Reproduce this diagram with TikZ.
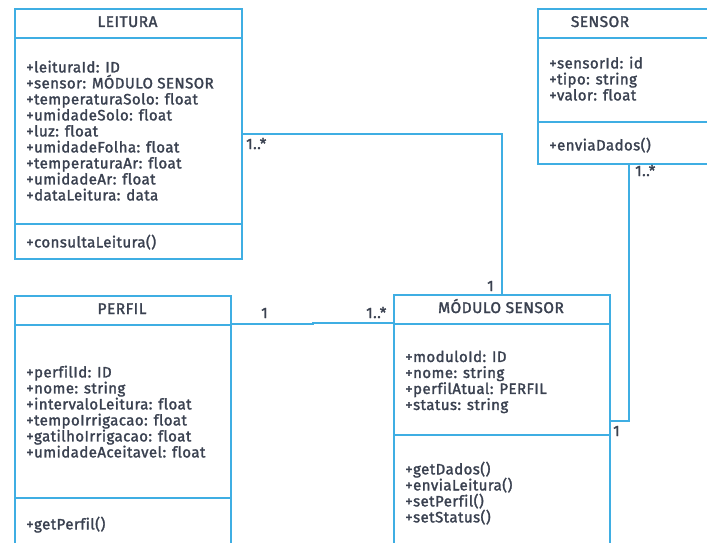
\documentclass[tikz,border=0pt]{standalone}
\usepackage{fontspec}
\setmainfont{Fira Sans}[Ligatures=NoCommon]
\newfontfamily\umlfont{Fira Sans}[Ligatures=NoCommon, FakeBold=1.8, LetterSpace=3]
\definecolor{umlblue}{HTML}{3FAEE3}
\definecolor{umltext}{HTML}{3A4150}
\begin{document}
\begin{tikzpicture}[x=1pt,y=-1pt,
  classbox/.style={draw=umlblue, line width=1.8pt, rectangle, inner sep=0pt, anchor=north west},
  divider/.style={draw=umlblue, line width=1.8pt},
  umltype/.style={text=umltext, font=\umlfont\fontsize{15}{16}\selectfont, inner sep=0pt},
  title/.style={umltype, font=\umlfont\fontsize{15.5}{16}\selectfont, anchor=base},
  members/.style={umltype, align=left, anchor=north west},
  mult/.style={umltype, anchor=base west},
  assoc/.style={draw=umlblue, line width=1.8pt}
]
\clip (0,0) rectangle (707,543);
\useasboundingbox (0,0) rectangle (707,543);

% LEITURA
\node[classbox, minimum width=227pt, minimum height=250pt] (leit) at (14,8) {};
\draw[divider] ([yshift=-30pt]leit.north west) -- ([yshift=-30pt]leit.north east);
\draw[divider] ([yshift=-216pt]leit.north west) -- ([yshift=-216pt]leit.north east);
\node[title] (leitT) at (127.5,27) {LEITURA};
\node[members] (leitA) at (26,60.5) {+leituraId: ID\\+sensor: MÓDULO SENSOR\\+temperaturaSolo: float\\+umidadeSolo: float\\+luz: float\\+umidadeFolha: float\\+temperaturaAr: float\\+umidadeAr: float\\+dataLeitura: data};
\node[members] (leitM) at (26,234.5) {+consultaLeitura()};

% SENSOR
\node[classbox, minimum width=182pt, minimum height=155pt] (sens) at (537,8) {};
\draw[divider] ([yshift=-30pt]sens.north west) -- ([yshift=-30pt]sens.north east);
\draw[divider] ([yshift=-114pt]sens.north west) -- ([yshift=-114pt]sens.north east);
\node[title] (sensT) at (600,27) {SENSOR};
\node[members] (sensA) at (549,56.5) {+sensorId: id\\+tipo: string\\+valor: float};
\node[members] (sensM) at (549,137.5) {+enviaDados()};

% PERFIL
\node[classbox, minimum width=216pt, minimum height=252pt] (perf) at (14,295) {};
\draw[divider] ([yshift=-30pt]perf.north west) -- ([yshift=-30pt]perf.north east);
\draw[divider] ([yshift=-203pt]perf.north west) -- ([yshift=-203pt]perf.north east);
\node[title] (perfT) at (122,314) {PERFIL};
\node[members] (perfA) at (26,365.5) {+perfilId: ID\\+nome: string\\+intervaloLeitura: float\\+tempoIrrigacao: float\\+gatilhoIrrigacao: float\\+umidadeAceitavel: float};
\node[members] (perfM) at (26,516.5) {+getPerfil()};

% MÓDULO SENSOR
\node[classbox, minimum width=216pt, minimum height=252pt] (mod) at (393,294) {};
\draw[divider] ([yshift=-30pt]mod.north west) -- ([yshift=-30pt]mod.north east);
\draw[divider] ([yshift=-141pt]mod.north west) -- ([yshift=-141pt]mod.north east);
\node[title] (modT) at (501,313) {MÓDULO SENSOR};
\node[members] (modA) at (405,350.5) {+moduloId: ID\\+nome: string\\+perfilAtual: PERFIL\\+status: string};
\node[members] (modM) at (405,461.5) {+getDados()\\+enviaLeitura()\\+setPerfil()\\+setStatus()};

% associations
\coordinate (perfR) at ([yshift=-29pt]perf.north east);
\coordinate (modL) at ([yshift=-29pt]mod.north west);
\draw[assoc] (leit.east) -| (mod.north);
\draw[assoc] (perfR) -- ++(81,0) -- ++(0,-1) |- (modL);
\draw[assoc] (sens.south) |- (mod.east);

% multiplicities
\node[mult] (m1) at (246,149) {1..*};
\node[mult] (m2) at (487,291) {1};
\node[mult] (m3) at (261,318) {1};
\node[mult] (m4) at (366,318) {1..*};
\node[mult] (m5) at (635,176) {1..*};
\node[mult] (m6) at (613,436) {1};
\end{tikzpicture}
\end{document}
